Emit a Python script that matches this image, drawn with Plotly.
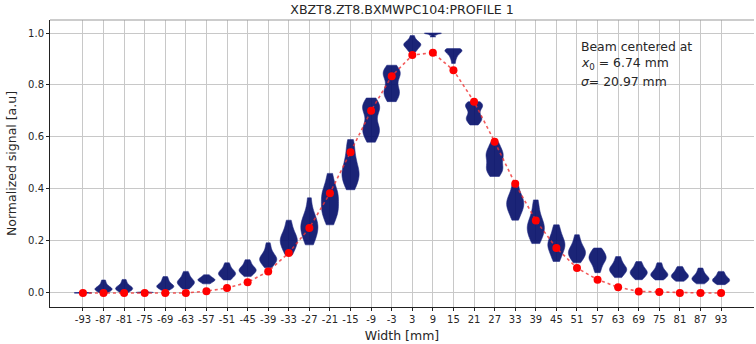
import plotly.graph_objects as go

# Wire positions of the profile monitor [mm]
positions = [-93, -87, -81, -75, -69, -63, -57, -51, -45, -39, -33, -27, -21, -15, -9, -3,
             3, 9, 15, 21, 27, 33, 39, 45, 51, 57, 63, 69, 75, 81, 87, 93]

# Profile points (normalized) drawn as red dots
profile = [0.0, 0.0, 0.0, 0.0, 0.0, 0.0, 0.007, 0.019, 0.041, 0.083, 0.154, 0.25, 0.384, 0.541,
           0.701, 0.834, 0.915, 0.924, 0.857, 0.736, 0.582, 0.42, 0.279, 0.173, 0.096, 0.051,
           0.022, 0.006, 0.004, 0.0, 0.0, 0.0]

# Per-wire signal samples (normalized) shown as violins
samples = [
    [0.0, 0.0, 0.001, 0.001, 0.002],
    [0.0, 0.004, 0.008, 0.011, 0.013, 0.015, 0.017, 0.019, 0.022, 0.026, 0.032, 0.04, 0.05],
    [0.0, 0.005, 0.009, 0.012, 0.015, 0.017, 0.019, 0.021, 0.024, 0.028, 0.034, 0.042, 0.052],
    [0.0, 0.001, 0.002, 0.002, 0.003, 0.004, 0.006],
    [0.01, 0.015, 0.019, 0.022, 0.024, 0.026, 0.028, 0.031, 0.035, 0.04, 0.047, 0.054, 0.063],
    [0.015, 0.022, 0.028, 0.033, 0.037, 0.04, 0.043, 0.046, 0.05, 0.056, 0.063, 0.072, 0.083],
    [0.035, 0.039, 0.043, 0.046, 0.048, 0.05, 0.052, 0.054, 0.057, 0.06, 0.064, 0.07],
    [0.05, 0.057, 0.063, 0.067, 0.071, 0.074, 0.077, 0.08, 0.084, 0.089, 0.096, 0.105, 0.116],
    [0.063, 0.07, 0.076, 0.08, 0.084, 0.087, 0.09, 0.093, 0.097, 0.102, 0.109, 0.118, 0.128],
    [0.097, 0.106, 0.114, 0.12, 0.125, 0.129, 0.133, 0.137, 0.143, 0.15, 0.16, 0.175, 0.193],
    [0.147, 0.16, 0.172, 0.182, 0.19, 0.197, 0.204, 0.211, 0.219, 0.228, 0.24, 0.258, 0.28],
    [0.185, 0.2, 0.215, 0.228, 0.238, 0.248, 0.257, 0.266, 0.276, 0.288, 0.302, 0.325, 0.366],
    [0.262, 0.285, 0.3, 0.312, 0.322, 0.332, 0.345, 0.36, 0.372, 0.382, 0.39, 0.405, 0.43, 0.46],
    [0.397, 0.415, 0.43, 0.442, 0.452, 0.462, 0.472, 0.485, 0.5, 0.518, 0.54, 0.565, 0.59],
    [0.58, 0.6, 0.615, 0.625, 0.633, 0.643, 0.665, 0.69, 0.705, 0.713, 0.72, 0.73, 0.75],
    [0.736, 0.752, 0.765, 0.774, 0.783, 0.8, 0.82, 0.835, 0.843, 0.85, 0.86, 0.876],
    [0.927, 0.935, 0.942, 0.948, 0.952, 0.955, 0.958, 0.962, 0.967, 0.975, 0.99],
    [0.985, 0.992, 0.996, 0.998, 1.0, 1.0],
    [0.883, 0.898, 0.908, 0.916, 0.922, 0.926, 0.93, 0.933, 0.936, 0.938, 0.94],
    [0.646, 0.658, 0.666, 0.672, 0.678, 0.688, 0.702, 0.712, 0.718, 0.723, 0.73, 0.736],
    [0.448, 0.462, 0.472, 0.48, 0.488, 0.5, 0.515, 0.525, 0.532, 0.54, 0.55, 0.565, 0.582],
    [0.28, 0.298, 0.312, 0.322, 0.33, 0.338, 0.347, 0.355, 0.362, 0.372, 0.385, 0.405, 0.43],
    [0.19, 0.205, 0.218, 0.23, 0.24, 0.248, 0.256, 0.265, 0.275, 0.288, 0.305, 0.33, 0.358],
    [0.121, 0.138, 0.152, 0.163, 0.172, 0.18, 0.187, 0.194, 0.202, 0.212, 0.225, 0.242, 0.262],
    [0.116, 0.127, 0.136, 0.143, 0.149, 0.154, 0.159, 0.165, 0.172, 0.18, 0.19, 0.205, 0.224],
    [0.078, 0.092, 0.105, 0.115, 0.122, 0.128, 0.133, 0.138, 0.143, 0.149, 0.156, 0.164, 0.173],
    [0.059, 0.068, 0.075, 0.081, 0.085, 0.089, 0.093, 0.097, 0.102, 0.108, 0.116, 0.127, 0.14],
    [0.051, 0.059, 0.065, 0.07, 0.074, 0.078, 0.081, 0.085, 0.089, 0.095, 0.102, 0.111, 0.121],
    [0.05, 0.056, 0.061, 0.065, 0.068, 0.071, 0.074, 0.078, 0.082, 0.088, 0.095, 0.105, 0.116],
    [0.045, 0.05, 0.055, 0.059, 0.062, 0.065, 0.068, 0.071, 0.075, 0.08, 0.086, 0.093, 0.102],
    [0.035, 0.041, 0.046, 0.049, 0.052, 0.055, 0.058, 0.061, 0.065, 0.07, 0.077, 0.086, 0.096],
    [0.032, 0.037, 0.041, 0.044, 0.047, 0.05, 0.052, 0.055, 0.059, 0.063, 0.069, 0.076, 0.083],
]

title = "XBZT8.ZT8.BXMWPC104:PROFILE 1"
x_label = "Width [mm]"
y_label = "Normalized signal [a.u]"
y_ticks = [0.0, 0.2, 0.4, 0.6, 0.8, 1.0]

FONT = "DejaVu Sans"
TXT = "#262626"
NAVY = "rgba(2,12,104,0.9)"

fig = go.Figure()

for pos, vals in zip(positions, samples):
    spread = max(vals) - min(vals)
    fig.add_trace(go.Violin(
        x=[pos] * len(vals), y=vals,
        width=5, scalemode="width", spanmode="hard",
        bandwidth=max(spread * 0.14, 1e-4),
        fillcolor=NAVY, line=dict(color="rgba(30,40,130,0.9)", width=0.6),
        points=False, box_visible=False, meanline_visible=False,
        hoverinfo="skip", showlegend=False,
    ))

fig.add_trace(go.Scatter(
    x=positions, y=profile, mode="lines+markers",
    line=dict(color="rgba(240,50,50,0.8)", width=1.6, dash="dot"),
    marker=dict(color="#ff0000", size=8),
    showlegend=False,
))

fig.update_layout(
    width=756, height=344,
    margin=dict(l=50, r=2, t=20, b=37),
    paper_bgcolor="white", plot_bgcolor="white",
    violinmode="overlay",
    font=dict(family=FONT, size=10, color=TXT),
    title=dict(text=title, x=0.5, xref="paper", y=0.972, yanchor="middle",
               font=dict(size=12.6, color=TXT)),
    xaxis=dict(
        range=[-102.6, 102.6], tickvals=positions, ticktext=[str(p) for p in positions],
        showgrid=True, gridcolor="#c8c8c8", gridwidth=1, zeroline=False,
        showline=True, linecolor="#222222", linewidth=1,
        ticks="outside", ticklen=3, tickcolor="#222222",
        title=dict(text=x_label, font=dict(size=12.5), standoff=7),
        tickfont=dict(size=10),
    ),
    yaxis=dict(
        range=[-0.054, 1.05], tickvals=y_ticks, tickformat=".1f",
        showgrid=True, gridcolor="#c8c8c8", gridwidth=1, zeroline=False,
        showline=True, linecolor="#222222", linewidth=1,
        ticks="outside", ticklen=3, tickcolor="#222222",
        title=dict(text=y_label, font=dict(size=12.5), standoff=8),
        tickfont=dict(size=10),
    ),
    shapes=[dict(type="line", xref="paper", yref="paper", x0=0, x1=1, y0=1, y1=1,
                 line=dict(color="#9a9a9a", width=1.2))],
)

for txt, yy in [("Beam centered at", 46), ("<i>x</i><sub>0</sub> = 6.74 mm", 64),
                ("<i>σ</i>= 20.97 mm", 81)]:
    fig.add_annotation(
        text=txt, xref="paper", yref="paper",
        x=(579 - 50) / 704, y=1 - (yy - 20) / 287, xanchor="left", yanchor="middle",
        showarrow=False, font=dict(size=12.4, color=TXT),
    )

fig.write_html("out.html")
